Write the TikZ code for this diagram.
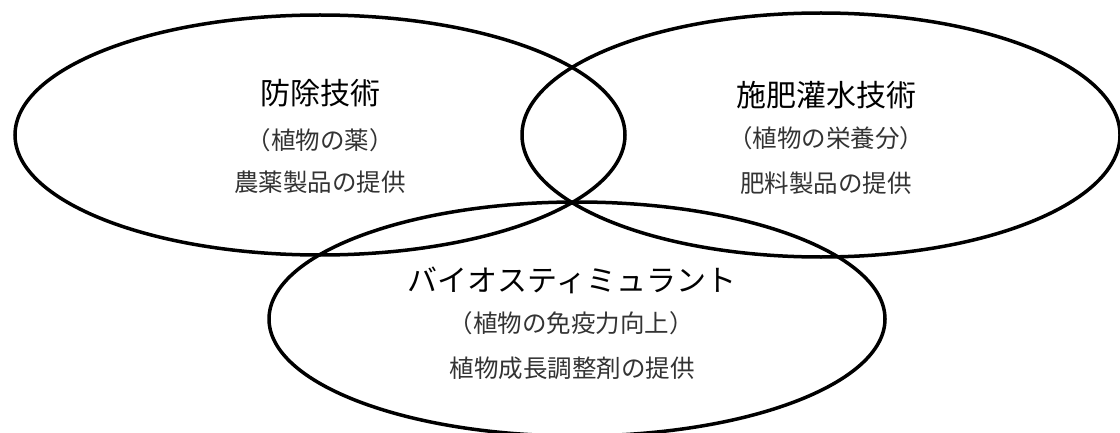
\documentclass[tikz,border=0pt]{standalone}
\usepackage{fontspec}
\newfontfamily\jpfont{Noto Sans CJK JP}
\usetikzlibrary{shapes.geometric}

\begin{document}
\begin{tikzpicture}[x=1pt, y=1pt,
		venn/.style={draw, ellipse, line width=3.5pt, inner sep=0pt},
		head/.style={font=\jpfont\fontsize{30}{36}\selectfont},
		sub/.style={font=\jpfont\fontsize{24.5}{29}\selectfont, text=black!80}]
	\useasboundingbox (0,0) rectangle (1120,432);
	\clip (0,0) rectangle (1120,432);
	% the three fields
	\node[venn, minimum width=610pt, minimum height=240pt] (bojo) at (320,297) {};
	\node[venn, minimum width=598pt, minimum height=244pt] (sehi) at (821,297) {};
	\node[venn, minimum width=616pt, minimum height=234pt] (bio) at (577,113) {};
	% texts
	\node[head] (bojohead) at (320,339) {防除技術};
	\node[sub] (bojosub) at (320,292) {（植物の薬）};
	\node[sub] (bojotext) at (320,250) {農薬製品の提供};
	\node[head] (sehihead) at (826,337) {施肥灌水技術};
	\node[sub] (sehisub) at (826,294) {（植物の栄養分）};
	\node[sub] (sehitext) at (826,249) {肥料製品の提供};
	\node[head] (biohead) at (572,152) {バイオスティミュラント};
	\node[sub] (biosub) at (571,109) {（植物の免疫力向上）};
	\node[sub] (biotext) at (572,64) {植物成長調整剤の提供};
\end{tikzpicture}
\end{document}
